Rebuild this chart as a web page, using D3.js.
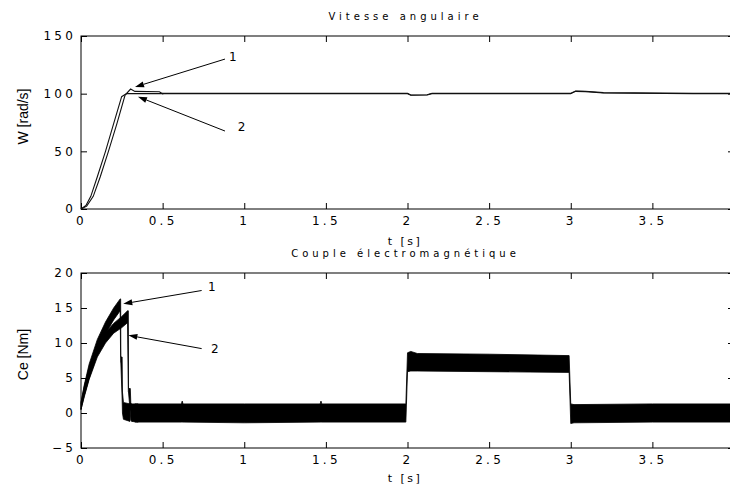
<!DOCTYPE html>
<html>
<head>
<meta charset="utf-8">
<script src="https://cdn.jsdelivr.net/npm/d3@7"></script>
<style>
  body { margin: 0; background: #fff; }
  svg { display: block; }
  .tick text { font-family: "DejaVu Sans", sans-serif; font-size: 12px; letter-spacing: 3.2px; fill: #000; }
  .tick line { stroke: #000; }
  .title { font-family: "DejaVu Sans", sans-serif; font-size: 10px; letter-spacing: 4px; }
  .xlab { font-family: "DejaVu Sans", sans-serif; font-size: 11px; letter-spacing: 2.5px; }
  .ylab { font-family: "Liberation Sans", Arial, sans-serif; font-size: 14px; }
  .num { font-family: "DejaVu Sans", sans-serif; font-size: 12px; }
</style>
</head>
<body>
<svg id="chart" width="730" height="489"></svg>
<script>
// tick labels
const xTicks = [0, 0.5, 1, 1.5, 2, 2.5, 3, 3.5];
const wTicks = [0, 50, 100, 150];
const ceTicks = [-5, 0, 5, 10, 15, 20];

// vitesse angulaire, curve 1 (faster) and curve 2, start-up part
const w1T = [0, 0.03, 0.06, 0.1, 0.15, 0.2, 0.249, 0.265, 0.28];
const w1V = [0, 3, 11, 28, 50, 74, 97.4, 98.8, 100];
const w2T = [0, 0.035, 0.075, 0.118, 0.168, 0.22, 0.27, 0.304, 0.33, 0.48, 0.5];
const w2V = [0, 2.5, 11, 28, 50, 74, 98.8, 104, 102, 101.7, 100];
// shared part after start-up (load steps at 2 s and 3 s)
const wTailT = [0.5, 1.1, 2.0, 2.02, 2.12, 2.15, 3.0, 3.03, 3.09, 3.2, 3.58, 3.75, 4];
const wTailV = [100, 100, 100, 98.6, 98.8, 100, 100, 102, 101.8, 100.6, 100.2, 100, 100];

// couple electromagnetique: envelopes of the noisy band
const ce1T  = [0, 0.02, 0.05, 0.1, 0.15, 0.2, 0.24, 0.243, 0.244, 0.252, 0.254, 0.26, 0.3];
const ce1Hi = [1.5, 4, 7, 10.5, 13, 15, 16.3, 16.3, 8, 8, 3, 1.5, 1.3];
const ce1Lo = [0.5, 2.5, 5, 8.5, 11.3, 13.3, 14.6, 7.2, 7.2, 2, 0, -0.9, -1.2];
const ce2T  = [0, 0.02, 0.05, 0.1, 0.15, 0.2, 0.25, 0.285, 0.29, 0.291, 0.302, 0.305, 0.31, 0.35];
const ce2Hi = [1.5, 3.8, 6.5, 9.6, 11.5, 12.8, 13.8, 14.6, 14.6, 3.5, 3.5, 1.5, 1.3, 1.3];
const ce2Lo = [0.5, 2.3, 4.8, 8, 10, 11.4, 12.2, 12.9, 3, 3, 0, -1, -1.2, -1.3];
const ceBandT  = [0.33, 0.615, 0.62, 0.625, 1.0, 1.465, 1.47, 1.475, 1.99, 2.0, 2.02, 2.06, 2.5, 2.99, 3.0, 3.02, 3.5, 4.0];
const ceBandHi = [1.3, 1.3, 1.7, 1.3, 1.3, 1.3, 1.7, 1.3, 1.3, 8.6, 8.8, 8.5, 8.4, 8.2, 1.3, 1.2, 1.3, 1.3];
const ceBandLo = [-1.3, -1.3, -1.3, -1.3, -1.4, -1.3, -1.3, -1.3, -1.3, 5.9, 6.0, 6.0, 5.9, 5.8, -1.5, -1.4, -1.3, -1.3];

// arrows [tailT, tailY, tipT, tipY, labelT, labelY, label]
const wArrows = [
  [0.882, 130, 0.331, 105.8, 0.93, 131.8, '1'],
  [0.882, 67.6, 0.349, 97.4, 0.984, 71, '2']
];
const ceArrows = [
  [0.739, 17.5, 0.259, 15.6, 0.802, 18, '1'],
  [0.739, 9.2, 0.29, 11.1, 0.82, 9.1, '2']
];

const svg = d3.select('#chart');
const left = 81, right = 734;

function panel(top, bottom, yDomain, yTicks, title, yLabel, xLabelY) {
  const x = d3.scaleLinear().domain([0, 4]).range([left, right]);
  const y = d3.scaleLinear().domain(yDomain).range([bottom, top]);
  const g = svg.append('g');

  g.append('g').attr('transform', `translate(0,${bottom})`)
    .call(d3.axisBottom(x).tickValues(xTicks).tickSize(-6).tickPadding(7).tickFormat(d3.format('~g')));
  g.append('g').attr('transform', `translate(0,${top})`)
    .call(d3.axisTop(x).tickValues(xTicks).tickSize(-6).tickFormat(() => ''));
  g.append('g').attr('transform', `translate(${left},0)`)
    .call(d3.axisLeft(y).tickValues(yTicks).tickSize(-6).tickPadding(5).tickFormat(d3.format('~g')));
  g.append('g').attr('transform', `translate(${right},0)`)
    .call(d3.axisRight(y).tickValues(yTicks).tickSize(-6).tickFormat(() => ''));
  g.selectAll('.domain').remove();

  g.append('rect')
    .attr('x', left).attr('y', top)
    .attr('width', right - left).attr('height', bottom - top)
    .attr('fill', 'none').attr('stroke', '#000');

  g.append('text').attr('class', 'title')
    .attr('x', (left + right) / 2 - 2).attr('y', top - 16)
    .attr('text-anchor', 'middle').text(title);
  g.append('text').attr('class', 'xlab')
    .attr('x', 405).attr('y', xLabelY)
    .attr('text-anchor', 'middle').text('t [s]');
  g.append('text').attr('class', 'ylab')
    .attr('transform', `translate(${left - 53},${(top + bottom) / 2 - 6}) rotate(-90)`)
    .attr('text-anchor', 'middle').text(yLabel);

  return { x, y, g };
}

function arrows(p, list) {
  list.forEach(a => {
    const x1 = p.x(a[0]), y1 = p.y(a[1]), x2 = p.x(a[2]), y2 = p.y(a[3]);
    const ang = Math.atan2(y2 - y1, x2 - x1);
    const len = 9, half = 3;
    const bx = x2 - len * Math.cos(ang), by = y2 - len * Math.sin(ang);
    p.g.append('line')
      .attr('x1', x1).attr('y1', y1).attr('x2', bx).attr('y2', by)
      .attr('stroke', '#000').attr('stroke-width', 1);
    p.g.append('path')
      .attr('d', `M${x2},${y2}L${bx - half * Math.sin(ang)},${by + half * Math.cos(ang)}L${bx + half * Math.sin(ang)},${by - half * Math.cos(ang)}Z`)
      .attr('fill', '#000');
    p.g.append('text').attr('class', 'num')
      .attr('x', p.x(a[4])).attr('y', p.y(a[5]))
      .attr('text-anchor', 'middle').attr('dominant-baseline', 'central')
      .text(a[6]);
  });
}

// ---- top: vitesse angulaire
const p1 = panel(36, 209, [0, 150], wTicks, 'Vitesse angulaire', 'W [rad/s]', 245);
const wLine = d3.line().x(d => p1.x(d[0])).y(d => p1.y(d[1]));
const w1 = w1T.map((t, i) => [t, w1V[i]]).concat(wTailT.map((t, i) => [t, wTailV[i]]));
const w2 = w2T.map((t, i) => [t, w2V[i]]).concat(wTailT.map((t, i) => [t, wTailV[i] + 0.3]));
[w1, w2].forEach(d => {
  p1.g.append('path').datum(d)
    .attr('d', wLine).attr('fill', 'none')
    .attr('stroke', '#111').attr('stroke-width', 1.1);
});
arrows(p1, wArrows);

// ---- bottom: couple electromagnetique
const p2 = panel(273, 448, [-5, 20], ceTicks, 'Couple électromagnétique', 'Ce [Nm]', 482);
const ceArea = d3.area().x(d => p2.x(d[0])).y0(d => p2.y(d[1])).y1(d => p2.y(d[2]));
[[ce1T, ce1Lo, ce1Hi], [ce2T, ce2Lo, ce2Hi], [ceBandT, ceBandLo, ceBandHi]].forEach(s => {
  const d = s[0].map((t, i) => [t, s[1][i], s[2][i]]);
  p2.g.append('path').datum(d)
    .attr('d', ceArea)
    .attr('fill', '#000').attr('stroke', '#000').attr('stroke-width', 0.8);
});
arrows(p2, ceArrows);
</script>
</body>
</html>
